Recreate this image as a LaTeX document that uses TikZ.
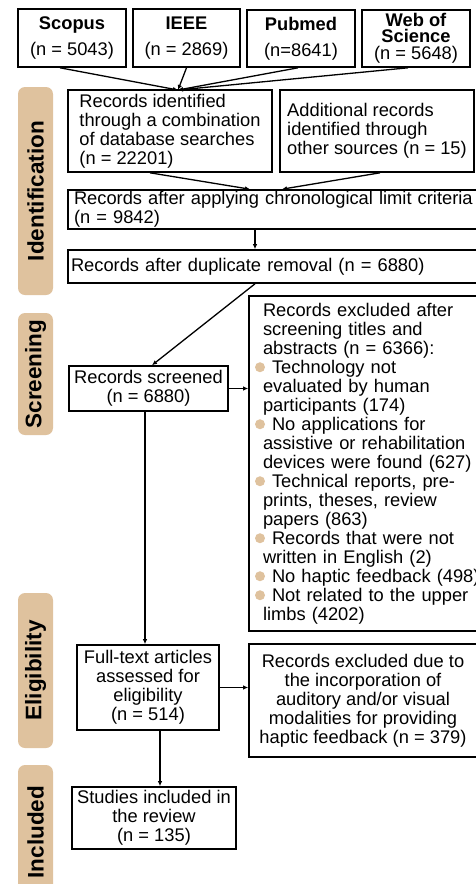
\documentclass[tikz,border=0pt]{standalone}
\usepackage{fontspec}
\setmainfont{Liberation Sans}
\usetikzlibrary{arrows.meta}
\definecolor{tanfill}{RGB}{223,194,158}
\newcommand{\tanbullet}{\hspace*{-8pt}\tikz[baseline=-6pt]\fill[tanfill, draw=none] (0,0) circle (5pt);\hspace{7pt}}

\begin{document}
\begin{tikzpicture}[x=1pt, y=-1pt,
	box/.style={draw, line width=1.6pt, inner sep=0pt, font=\fontsize{18.3}{19}\selectfont},
	phase/.style={fill=tanfill, rounded corners=7pt, rotate=90, minimum height=35pt, inner sep=0pt, font=\fontsize{22.5}{24}\selectfont\bfseries},
	arr/.style={line width=1.3pt, -{Latex[length=5pt,width=4.5pt]}}]
			\useasboundingbox (0,0) rectangle (476,884);
			\clip (0,0) rectangle (476,884);
			
			% Draw the phase labels on the left
			\node[phase, minimum width=208pt] (identlab) at (35.5,191) {Identification};
			\node[phase, minimum width=122pt] (screenlab) at (35.5,374) {Screening};
			\node[phase, minimum width=155pt] (eliglab) at (35.5,670.5) {Eligibility};
			\node[phase, minimum width=134pt] (inclab) at (35.5,832) {Included};
			
			% Draw the database boxes
			\node[box, minimum width=108pt, minimum height=58pt, align=center] (scopus) at (72,38) {\textbf{Scopus}\\[7pt](n = 5043)};
			\node[box, minimum width=107pt, minimum height=58pt, align=center] (ieee) at (186.5,38) {\textbf{IEEE}\\[7pt](n = 2869)};
			\node[box, minimum width=108pt, minimum height=57pt, align=center] (pubmed) at (301,38.5) {\textbf{Pubmed}\\[7pt](n=8641)};
			\node[box, minimum width=108pt, minimum height=57pt, align=center] (wos) at (416,38.5) {\textbf{Web of}\\[-3pt]\textbf{Science}\\[-2pt](n = 5648)};
			
			% Draw the identification boxes
			\node[box, minimum width=204pt, minimum height=82pt, align=left] (ident) at (170,131) {Records identified\\through a combination\\of database searches\\(n = 22201)};
			\node[box, minimum width=194pt, minimum height=82pt, align=left] (other) at (377,131) {Additional records\\identified through\\other sources (n = 15)};
			\node[box, text width=408pt, inner xsep=6pt, minimum height=39pt, align=left] (chrono) at (278,209.5) {Records after applying chronological limit criteria\\(n = 9842)};
			\node[box, text width=414pt, inner xsep=3pt, minimum height=33pt, align=left] (dup) at (278,266.5) {Records after duplicate removal (n = 6880)};
			
			% Draw the screening boxes
			\node[box, minimum width=159pt, minimum height=45pt, align=center] (screened) at (148.5,388.5) {Records screened\\(n = 6880)};
			\node[box, text width=200pt, inner xsep=14pt, minimum height=335pt, align=left] (excl) at (363,463.5) {Records excluded after\\screening titles and\\abstracts (n = 6366):\\\tanbullet Technology not\\evaluated by human\\participants (174)\\\tanbullet No applications for\\\mbox{assistive or rehabilitation}\\\mbox{devices were found (627)}\\\tanbullet Technical reports, pre-\\prints, theses, review\\papers (863)\\\tanbullet Records that were not\\written in English (2)\\\mbox{\tanbullet No haptic feedback (498)}\\\mbox{\tanbullet Not related to the upper}\\limbs (4202)};
			
			% Draw the eligibility and included boxes
			\node[box, minimum width=142pt, minimum height=85pt, align=center] (fulltext) at (148,687.5) {Full-text articles\\assessed for\\eligibility\\(n = 514)};
			\node[box, minimum width=228pt, minimum height=113pt, align=center] (exclfull) at (363,700.5) {Records excluded due to\\the incorporation of\\auditory and/or visual\\modalities for providing\\haptic feedback (n = 379)};
			\node[box, minimum width=164pt, minimum height=62pt, align=center] (studies) at (154,818) {Studies included in\\the review\\(n = 135)};
			
			% Draw the arrows
			\coordinate (merge) at (178,90);
			\draw[arr] ([xshift=-12pt]scopus.south) -- (merge);
			\draw[arr] (ieee.south) -- (merge);
			\draw[arr] ([xshift=-3pt]pubmed.south) -- (merge);
			\draw[arr] ([xshift=-8pt]wos.south) -- (merge);
			\draw[arr] ([xshift=-20pt]ident.south) -- ([xshift=-28pt]chrono.north);
			\draw[arr] ([xshift=3pt]other.south) -- ([xshift=4pt]chrono.north);
			\draw[arr] ([xshift=-23pt]chrono.south) -- ([xshift=-23pt]dup.north);
			\draw[arr] ([xshift=-23pt]dup.south) -- ([xshift=3.5pt]screened.north);
			\draw[arr] (screened.east) -- (screened.east -| excl.west);
			\draw[arr] ([xshift=-3.5pt]screened.south) -- ([xshift=-3.5pt]screened.south |- fulltext.north);
			\draw[arr] (fulltext.east) -- (fulltext.east -| exclfull.west);
			\draw[arr] ([xshift=12pt]fulltext.south) -- ([xshift=12pt]fulltext.south |- studies.north);
		\end{tikzpicture}
\end{document}
